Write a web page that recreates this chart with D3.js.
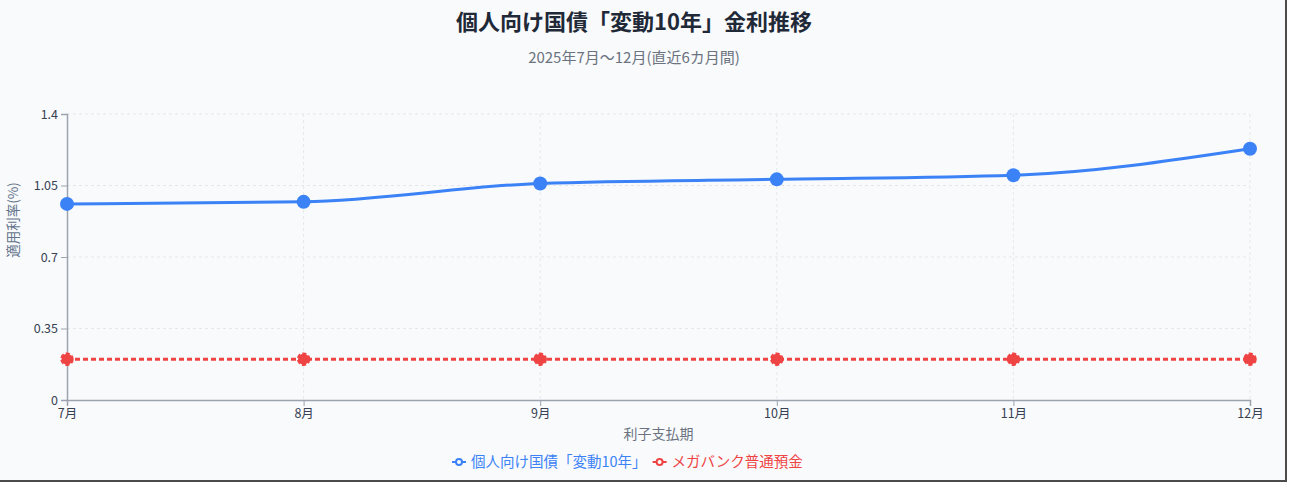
<!DOCTYPE html>
<html>
<head>
<meta charset="utf-8">
<script src="https://cdn.jsdelivr.net/npm/d3@7"></script>
<style>
  body { margin: 0; background: #fff; }
  svg { display: block; font-family: "Noto Sans CJK JP", "Noto Sans", sans-serif; }
</style>
</head>
<body>
<div id="chart"></div>
<script>
// data
var months = ['7月', '8月', '9月', '10月', '11月', '12月'];
var bondRates = [0.96, 0.97, 1.06, 1.08, 1.10, 1.23];
var depositRates = [0.2, 0.2, 0.2, 0.2, 0.2, 0.2];
var yTicks = [0, 0.35, 0.7, 1.05, 1.4];
var seriesNames = ['個人向け国債「変動10年」', 'メガバンク普通預金'];
var seriesColors = ['#3b82f6', '#ef4444'];

var W = 1289, H = 485,
    margin = {top: 114, right: 39, bottom: 85, left: 67},
    width = 1250 - margin.left,
    height = 400 - margin.top;

var svg = d3.select('#chart').append('svg')
    .attr('width', W).attr('height', H);

// card
svg.append('rect').attr('x', 0).attr('y', 0).attr('width', 1286).attr('height', 481).attr('fill', '#f8fafc');
svg.append('line').attr('x1', 1286).attr('x2', 1286).attr('y1', 0).attr('y2', 482)
    .attr('stroke', '#4b4b4b').attr('stroke-width', 2);
svg.append('line').attr('x1', 0).attr('x2', 1287).attr('y1', 481).attr('y2', 481)
    .attr('stroke', '#4b4b4b').attr('stroke-width', 2);

svg.append('text').attr('x', 634).attr('y', 30).attr('text-anchor', 'middle')
    .attr('font-size', 22).attr('font-weight', 'bold').attr('fill', '#1f2937')
    .text('個人向け国債「変動10年」金利推移');
svg.append('text').attr('x', 634).attr('y', 63).attr('text-anchor', 'middle')
    .attr('font-size', 15).attr('fill', '#6b7280')
    .text('2025年7月～12月(直近6カ月間)');

var g = svg.append('g').attr('transform', 'translate(' + margin.left + ',' + margin.top + ')');

var x = d3.scalePoint().domain(months).range([0, width]);
var y = d3.scaleLinear().domain([0, 1.4]).range([height, 0]);

// grid
g.append('g').selectAll('line.h').data(yTicks.slice(1)).enter().append('line')
    .attr('x1', 0).attr('x2', width)
    .attr('y1', function(d) { return y(d); }).attr('y2', function(d) { return y(d); })
    .attr('stroke', '#e5e7eb').attr('stroke-dasharray', '3 3');
g.append('g').selectAll('line.v').data(months.slice(1)).enter().append('line')
    .attr('y1', 0).attr('y2', height)
    .attr('x1', function(d) { return x(d); }).attr('x2', function(d) { return x(d); })
    .attr('stroke', '#e5e7eb').attr('stroke-dasharray', '3 3');

// axes
var xAxis = g.append('g').attr('transform', 'translate(0,' + height + ')')
    .call(d3.axisBottom(x).tickSize(6).tickPadding(3));
var yAxis = g.append('g')
    .call(d3.axisLeft(y).tickValues(yTicks).tickFormat(function(d) { return String(d); }).tickSize(6).tickPadding(3));
[xAxis, yAxis].forEach(function(a) {
    a.select('.domain').attr('stroke', '#9ca3af').attr('stroke-width', 1.5);
    a.selectAll('.tick line').attr('stroke', '#9ca3af');
    a.selectAll('.tick text').attr('fill', '#374151').attr('font-size', 12.5)
        .attr('font-family', '"Noto Sans CJK JP", sans-serif');
});

svg.append('text').attr('x', margin.left + width / 2).attr('y', 439).attr('text-anchor', 'middle')
    .attr('font-size', 14).attr('fill', '#6b7280').text('利子支払期');
svg.append('text').attr('transform', 'translate(18,' + (margin.top + height / 2 - 37) + ') rotate(-90)')
    .attr('text-anchor', 'middle').attr('font-size', 13.5).attr('fill', '#64748b').text('適用利率(%)');

// lines
var line = d3.line()
    .x(function(d, i) { return x(months[i]); })
    .y(function(d) { return y(d); })
    .curve(d3.curveMonotoneX);

g.append('path').datum(bondRates).attr('d', line)
    .attr('fill', 'none').attr('stroke', seriesColors[0]).attr('stroke-width', 3);
g.selectAll('circle.bond').data(bondRates).enter().append('circle')
    .attr('cx', function(d, i) { return x(months[i]); })
    .attr('cy', function(d) { return y(d); })
    .attr('r', 7).attr('fill', seriesColors[0]);

g.append('path').datum(depositRates).attr('d', line)
    .attr('fill', 'none').attr('stroke', seriesColors[1]).attr('stroke-width', 3)
    .attr('stroke-dasharray', '5 3');
g.selectAll('circle.dep').data(depositRates).enter().append('circle')
    .attr('cx', function(d, i) { return x(months[i]); })
    .attr('cy', function(d) { return y(d); })
    .attr('r', 5.5).attr('fill', seriesColors[1])
    .attr('stroke', seriesColors[1]).attr('stroke-width', 2.5).attr('stroke-dasharray', '4 2');

// legend
var legend = svg.append('g').attr('transform', 'translate(452,462)');
var lx = 0;
seriesNames.forEach(function(name, i) {
    var item = legend.append('g').attr('transform', 'translate(' + lx + ',0)');
    item.append('line').attr('x1', 0).attr('x2', 14).attr('y1', 0).attr('y2', 0)
        .attr('stroke', seriesColors[i]).attr('stroke-width', 2);
    item.append('circle').attr('cx', 7).attr('cy', 0).attr('r', 3)
        .attr('fill', '#fff').attr('stroke', seriesColors[i]).attr('stroke-width', 2);
    var t = item.append('text').attr('x', 19).attr('y', 5).attr('font-size', 14.5)
        .attr('fill', seriesColors[i]).text(name);
    lx += 19 + t.node().getComputedTextLength() + 6;
});
</script>
</body>
</html>
